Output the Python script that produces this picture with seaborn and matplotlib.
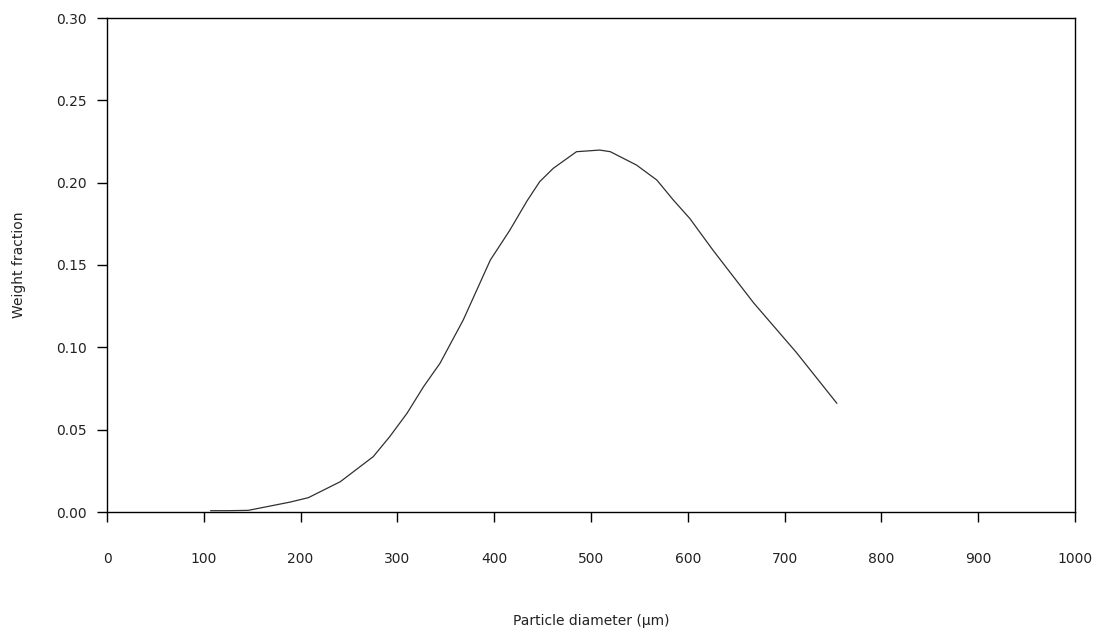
import numpy as np
import pandas as pd
import matplotlib
matplotlib.use('Agg')
import matplotlib.pyplot as plt
import seaborn as sns

# Values
diameter = [107, 125, 146, 189, 208, 241, 275, 292, 310, 327, 344, 368, 396, 416,
            434, 447, 461, 485, 509, 520, 547, 568, 585, 602, 626, 668, 712, 754]
weight_fraction = [0.0008, 0.0008, 0.0010, 0.0060, 0.0087, 0.0184, 0.0336, 0.0457,
                   0.0600, 0.0761, 0.0903, 0.1166, 0.1530, 0.1710, 0.1890, 0.2006,
                   0.2087, 0.2188, 0.2198, 0.2188, 0.2107, 0.2016, 0.1895, 0.1783,
                   0.1590, 0.1270, 0.0970, 0.0660]
x_ticks = list(range(0, 1001, 100))
y_ticks = [0.00, 0.05, 0.10, 0.15, 0.20, 0.25, 0.30]

df = pd.DataFrame({'d': diameter, 'w': weight_fraction})

sns.set_style('ticks')
plt.rcParams['font.family'] = ['DejaVu Sans']

fig = plt.figure(figsize=(11.08, 6.35), dpi=100)
ax = fig.add_axes([107 / 1108, 1 - 512 / 635, (1075 - 107) / 1108, (512 - 18) / 635])

sns.lineplot(data=df, x='d', y='w', ax=ax, color='#303030', linewidth=0.9)

ax.set_xlim(0, 1000)
ax.set_ylim(0, 0.30)
ax.set_xticks(x_ticks)
ax.set_yticks(y_ticks)
ax.set_yticklabels([f'{v:.2f}' for v in y_ticks])

for side in ['left', 'right', 'top', 'bottom']:
    ax.spines[side].set_visible(True)
    ax.spines[side].set_color('black')
    ax.spines[side].set_linewidth(1.0)

ax.tick_params(axis='x', direction='out', length=7, width=1.0, pad=22, labelsize=10, colors='black')
ax.tick_params(axis='y', direction='out', length=7, width=1.0, pad=7.5, labelsize=10, colors='black')
for lbl in ax.get_xticklabels() + ax.get_yticklabels():
    lbl.set_color('#222222')

ax.set_xlabel('Particle diameter (\u00b5m)', fontsize=10, color='#222222', va='center')
ax.set_ylabel('Weight fraction', fontsize=10, color='#222222', va='center', ha='center')
ax.xaxis.set_label_coords(0.5, (512 - 621) / 494)
ax.yaxis.set_label_coords((19 - 107) / 968, 0.5)

fig.savefig('out.png', dpi=100, facecolor='white')
